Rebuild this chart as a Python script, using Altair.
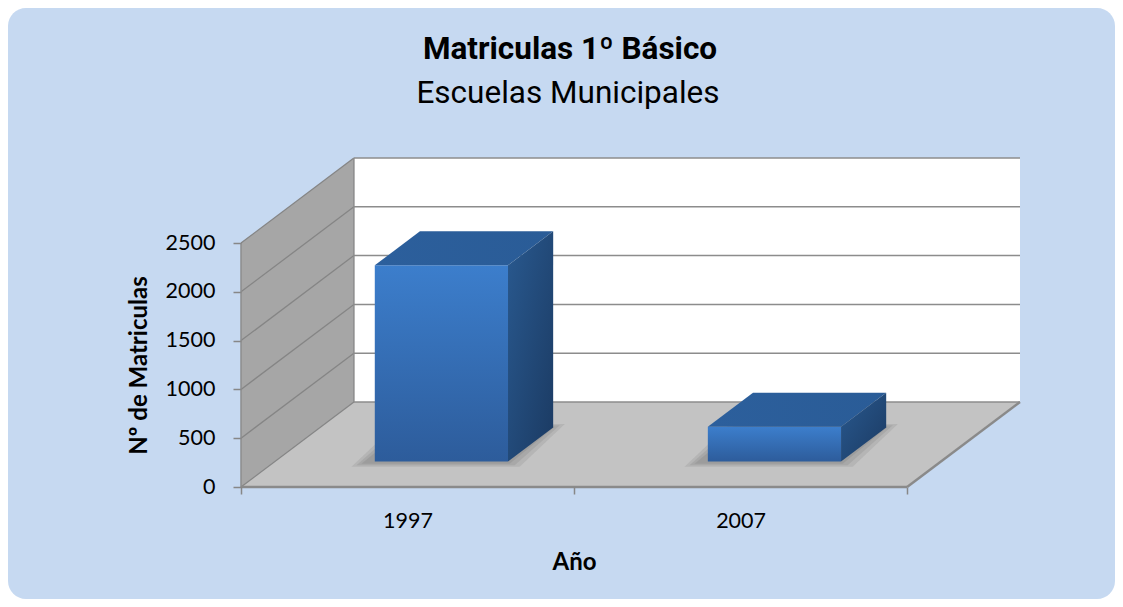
import json
import altair as alt
import pandas as pd

# ---------------- data ----------------
years = ["1997", "2007"]
matriculas = [2010, 355]
y_ticks = [0, 500, 1000, 1500, 2000, 2500]
title_text = "Matriculas 1º Básico"
subtitle_text = "Escuelas Municipales"
x_title = "Año"
y_title = "Nº de Matriculas"

# ---------------- 3D geometry (data units) ----------------
N = len(years)
Y_FRONT = y_ticks[-1]
DX = 0.339          # depth shift along x (category units)
DY = 871.0          # depth shift along y (value units)
X_MAX = N + DX
Y_MAX = Y_FRONT + DY
BAR_W = 0.4
T0, T1 = 0.3, 0.7   # bar depth range (fraction of depth)

W, H = 779, 329
PAD = {"left": 233, "top": 150, "right": 95, "bottom": 112}

FONT = "Lato"
TFONT = "Roboto"
AX = "#878787"

xs = alt.Scale(domain=[0, X_MAX], nice=False, zero=False)
ys = alt.Scale(domain=[0, Y_MAX], nice=False, zero=False)

x_axis = alt.Axis(
    values=[k / 2 for k in range(2 * N + 1)],
    domain=False, grid=False, zindex=1,
    tickColor=AX, tickWidth=1.5, tickSize=7,
    tickOpacity={"condition": {"test": "datum.value % 1 == 0", "value": 1}, "value": 0},
    labelExpr=f"datum.value % 1 == 0 ? '' : {json.dumps(years)}[floor(datum.value)]",
    labelFont=FONT, labelFontSize=21.5, labelColor="black", labelPadding=16,
    labelFlush=False, labelOverlap=False,
    title=x_title, titleFont=FONT, titleFontSize=24, titleFontWeight="bold",
    titleColor="black", titleX=N / 2 * (W / X_MAX), titleY=75,
    titleBaseline="middle", titleAlign="center",
)
y_axis = alt.Axis(
    values=y_ticks, format="d", domain=False, grid=False, zindex=1,
    tickColor=AX, tickWidth=1.5, tickSize=8,
    labelFont=FONT, labelFontSize=21.5, labelColor="black", labelPadding=18,
    labelFlush=False,
    title=y_title, titleFont=FONT, titleFontSize=24, titleFontWeight="bold",
    titleColor="black", titleX=-102, titleY=H - (Y_FRONT / 2) * (H / Y_MAX),
    titleBaseline="middle", titleAlign="center", titleAngle=270,
)


def X(f):
    return alt.X(f, type="quantitative", scale=xs, axis=x_axis)


def Y(f):
    return alt.Y(f, type="quantitative", scale=ys, axis=y_axis)


one = pd.DataFrame({"k": [0]})

# background rounded panel
bg = alt.Chart(one).mark_rect(color="#C6D9F1", cornerRadius=18).encode(
    x=alt.value(-PAD["left"]), x2=alt.value(W + PAD["right"]),
    y=alt.value(-PAD["top"]), y2=alt.value(H + PAD["bottom"]),
)

# back wall
back_df = pd.DataFrame({"x": [DX], "x2": [X_MAX], "y": [DY], "y2": [Y_MAX]})
back = alt.Chart(back_df).mark_rect(color="white").encode(
    x=X("x"), x2="x2", y=Y("y"), y2="y2"
)

# left wall
left_df = pd.DataFrame({"x": [0, DX], "y": [0, DY], "y2": [Y_FRONT, Y_MAX]})
left = alt.Chart(left_df).mark_area(color="#A6A6A6", orient="vertical").encode(
    x=X("x"), y=Y("y"), y2="y2"
)

# floor
floor_df = pd.DataFrame({"y": [0, DY], "x": [0, DX], "x2": [N, X_MAX]})
floor = alt.Chart(floor_df).mark_area(color="#C3C3C3", orient="horizontal").encode(
    y=Y("y"), x=X("x"), x2="x2"
)

# gridlines on back wall
grid_df = pd.DataFrame({"y": [v + DY for v in y_ticks], "x": DX, "x2": X_MAX})
grid = alt.Chart(grid_df).mark_rule(color="#8C8C8C", strokeWidth=1.5).encode(
    x=X("x"), x2="x2", y=Y("y")
)

# gridlines on left wall
diag_df = pd.DataFrame({"x": 0.0, "x2": DX, "y": y_ticks, "y2": [v + DY for v in y_ticks]})
diag = alt.Chart(diag_df).mark_rule(color="#858585", strokeWidth=1.3).encode(
    x=X("x"), x2="x2", y=Y("y"), y2="y2"
)

# frame edges
edge_df = pd.DataFrame({
    "x": [DX, 0.0], "x2": [DX, 0.0],
    "y": [DY, 0.0], "y2": [Y_MAX, Y_FRONT],
})
edges = alt.Chart(edge_df).mark_rule(color="#8C8C8C", strokeWidth=1.5).encode(
    x=X("x"), x2="x2", y=Y("y"), y2="y2"
)
fedge_df = pd.DataFrame({
    "x": [0.0, N], "x2": [N, X_MAX], "y": [0.0, 0.0], "y2": [0.0, DY],
})
fedges = alt.Chart(fedge_df).mark_rule(color="#8A8A8A", strokeWidth=2.5).encode(
    x=X("x"), x2="x2", y=Y("y"), y2="y2"
)

# bars
front_rows, top_rows, side_rows, shadow_rows = [], [], [], []
for i, (yr, v) in enumerate(zip(years, matriculas)):
    L = i + 0.5 - BAR_W / 2
    R = L + BAR_W
    front_rows.append({"bar": yr, "x": L + T0 * DX, "x2": R + T0 * DX,
                       "y": T0 * DY, "y2": v + T0 * DY})
    for t in (T0, T1):
        top_rows.append({"bar": yr, "y": v + t * DY, "x": L + t * DX, "x2": R + t * DX})
        side_rows.append({"bar": yr, "x": R + t * DX, "y": t * DY, "y2": v + t * DY})
    for lvl, (ex, ey) in enumerate([(0.045, 45), (0.03, 30), (0.015, 15)]):
        for t, s in ((T0, -1), (T1, 1)):
            shadow_rows.append({"bar": f"{yr}-{lvl}", "lvl": lvl,
                                "y": t * DY + s * ey - 8,
                                "x": L + t * DX - ex - 0.025, "x2": R + t * DX + ex - 0.01})

shadow = alt.Chart(pd.DataFrame(shadow_rows)).mark_area(
    color="#3A3A3A", opacity=0.1, orient="horizontal"
).encode(y=Y("y"), x=X("x"), x2="x2", detail="bar:N")

front_grad = alt.LinearGradient(
    gradient="linear", x1=0, y1=0, x2=0, y2=1,
    stops=[alt.GradientStop(color="#3C7ECC", offset=0),
           alt.GradientStop(color="#2D5C9B", offset=1)],
)
side_grad = alt.LinearGradient(
    gradient="linear", x1=0, y1=0, x2=1, y2=1,
    stops=[alt.GradientStop(color="#29598F", offset=0),
           alt.GradientStop(color="#1B3A62", offset=1)],
)
top_grad = alt.LinearGradient(
    gradient="linear", x1=0, y1=0, x2=1, y2=0,
    stops=[alt.GradientStop(color="#2C5F9C", offset=0),
           alt.GradientStop(color="#2A5C97", offset=1)],
)

front = alt.Chart(pd.DataFrame(front_rows)).mark_rect(color=front_grad).encode(
    x=X("x"), x2="x2", y=Y("y"), y2="y2"
)
top = alt.Chart(pd.DataFrame(top_rows)).mark_area(color=top_grad, orient="horizontal").encode(
    y=Y("y"), x=X("x"), x2="x2", detail="bar:N"
)
side = alt.Chart(pd.DataFrame(side_rows)).mark_area(color=side_grad, orient="vertical").encode(
    x=X("x"), y=Y("y"), y2="y2", detail="bar:N"
)

# titles
title = alt.Chart(one).mark_text(
    text=title_text, font=TFONT, fontSize=31.5, fontWeight="bold",
    color="black", align="center", baseline="alphabetic",
).encode(x=alt.value(329), y=alt.value(-99))
subtitle = alt.Chart(one).mark_text(
    text=subtitle_text, font=TFONT, fontSize=31.5, fontWeight="normal",
    color="black", align="center", baseline="alphabetic",
).encode(x=alt.value(327), y=alt.value(-55))

chart = alt.layer(
    bg, back, left, floor, grid, diag, edges, fedges, shadow, front, top, side,
    title, subtitle,
).properties(
    width=W, height=H, padding=PAD,
    autosize=alt.AutoSizeParams(type="none"),
    background="white",
).configure_view(stroke=None)

chart.save("out.html", embed_options={"renderer": "svg", "actions": False})
